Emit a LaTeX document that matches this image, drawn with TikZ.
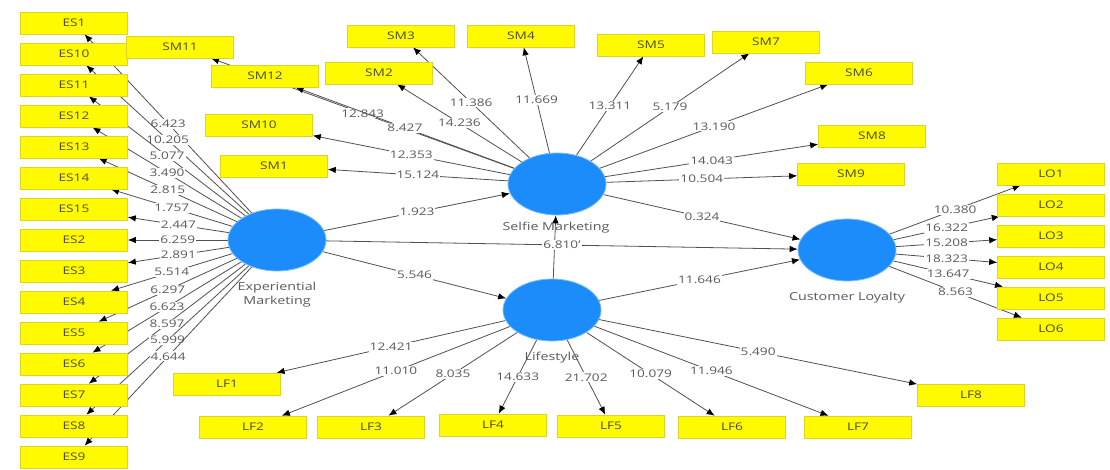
\documentclass[tikz,border=0pt]{standalone}
\usepackage{fontspec}
\setmainfont{Open Sans}[FakeStretch=1.3]
\usetikzlibrary{shapes.geometric,arrows.meta}
\definecolor{boxfill}{RGB}{255,250,0}
\definecolor{boxedge}{RGB}{222,212,40}
\definecolor{boxtext}{RGB}{75,75,55}
\definecolor{lvblue}{RGB}{28,140,250}
\definecolor{lvedge}{RGB}{120,190,255}
\definecolor{linegray}{RGB}{80,80,80}
\definecolor{numgray}{RGB}{90,90,90}
\pgfdeclarelayer{back}
\pgfdeclarelayer{bg}
\pgfsetlayers{back,bg,main}
\newcommand\pth[3]{\draw[con] (#1) -- node[val,midway]{#3} (#2);}
\newcommand\pthn[2]{\draw[con] (#1) -- (#2);}
\begin{document}
\begin{tikzpicture}[x=1pt,y=-1pt,
  ind/.style={draw=boxedge,line width=0.6pt,fill=boxfill,minimum width=107pt,minimum height=22pt,inner sep=0pt,text=boxtext,font=\fontsize{10.5}{12}\selectfont},
  lv/.style={ellipse,draw=lvedge,line width=0.8pt,fill=lvblue,minimum width=98pt,minimum height=62pt,inner sep=0pt},
  lvlab/.style={text=numgray,align=center,font=\fontsize{11}{14}\selectfont},
  con/.style={draw=linegray,line width=0.8pt,-{Latex[length=8pt,width=6.5pt,color=black]}},
  val/.style={fill=white,inner sep=1pt,text=numgray,font=\fontsize{10.5}{12}\selectfont}]
\begin{pgfonlayer}{back}
\fill[white] (0,0) rectangle (1110,470);
\end{pgfonlayer}
\useasboundingbox (0,0) rectangle (1110,470);

% latent variables
\node[lv] (EM) at (277,240) {};
\node[lv] (SM) at (557,184) {};
\node[lv] (LF) at (552,310) {};
\node[lv] (CL) at (847,250) {};

% ES indicators
\node[ind] (ES1)  at (74,23)  {ES1};
\node[ind] (ES10) at (74,54)  {ES10};
\node[ind] (ES11) at (74,85)  {ES11};
\node[ind] (ES12) at (74,116) {ES12};
\node[ind] (ES13) at (74,147) {ES13};
\node[ind] (ES14) at (74,178) {ES14};
\node[ind] (ES15) at (74,209) {ES15};
\node[ind] (ES2)  at (74,240) {ES2};
\node[ind] (ES3)  at (74,271) {ES3};
\node[ind] (ES4)  at (74,302) {ES4};
\node[ind] (ES5)  at (74,333) {ES5};
\node[ind] (ES6)  at (74,364) {ES6};
\node[ind] (ES7)  at (74,395) {ES7};
\node[ind] (ES8)  at (74,426) {ES8};
\node[ind] (ES9)  at (74,457) {ES9};

% SM indicators
\node[ind] (SM11) at (180,47)  {SM11};
\node[ind] (SM12) at (265,76)  {SM12};
\node[ind] (SM3)  at (401,36)  {SM3};
\node[ind] (SM4)  at (521,36)  {SM4};
\node[ind] (SM2)  at (379,73)  {SM2};
\node[ind] (SM10) at (259,125) {SM10};
\node[ind] (SM1)  at (274,166) {SM1};
\node[ind] (SM5)  at (651,45)  {SM5};
\node[ind] (SM7)  at (766,42)  {SM7};
\node[ind] (SM6)  at (859,73)  {SM6};
\node[ind] (SM8)  at (872,136) {SM8};
\node[ind] (SM9)  at (851,174) {SM9};

% LO indicators
\node[ind] (LO1) at (1051,174) {LO1};
\node[ind] (LO2) at (1051,205) {LO2};
\node[ind] (LO3) at (1051,236) {LO3};
\node[ind] (LO4) at (1051,267) {LO4};
\node[ind] (LO5) at (1051,298) {LO5};
\node[ind] (LO6) at (1051,329) {LO6};

% LF indicators
\node[ind] (LF1) at (227,384) {LF1};
\node[ind] (LF2) at (253,427) {LF2};
\node[ind] (LF3) at (371,427) {LF3};
\node[ind] (LF4) at (493,425) {LF4};
\node[ind] (LF5) at (611,426) {LF5};
\node[ind] (LF6) at (732,427) {LF6};
\node[ind] (LF7) at (858,427) {LF7};
\node[ind] (LF8) at (971,395) {LF8};

\begin{pgfonlayer}{bg}
% EM loadings
\pth{EM}{ES1}{6.423}
\pth{EM}{ES10}{10.205}
\pth{EM}{ES11}{5.077}
\pth{EM}{ES12}{3.490}
\pth{EM}{ES13}{2.815}
\pth{EM}{ES14}{1.757}
\pth{EM}{ES15}{2.447}
\pth{EM}{ES2}{6.259}
\pth{EM}{ES3}{2.891}
\pth{EM}{ES4}{5.514}
\pth{EM}{ES5}{6.297}
\pth{EM}{ES6}{6.623}
\pth{EM}{ES7}{8.597}
\pth{EM}{ES8}{5.999}
\pth{EM}{ES9}{4.644}
% SM loadings
\pth{SM}{SM11}{12.843}
\pth{SM}{SM12}{8.427}
\pth{SM}{SM3}{11.386}
\pth{SM}{SM2}{14.236}
\pth{SM}{SM4}{11.669}
\pth{SM}{SM10}{12.353}
\pth{SM}{SM1}{15.124}
\pth{SM}{SM5}{13.311}
\pth{SM}{SM7}{5.179}
\pth{SM}{SM6}{13.190}
\pth{SM}{SM8}{14.043}
\pth{SM}{SM9}{10.504}
% LO loadings
\pth{CL}{LO1}{10.380}
\pth{CL}{LO2}{16.322}
\pth{CL}{LO3}{15.208}
\pth{CL}{LO4}{18.323}
\pth{CL}{LO5}{13.647}
\pth{CL}{LO6}{8.563}
% LF loadings
\pth{LF}{LF1}{12.421}
\pth{LF}{LF2}{11.010}
\pth{LF}{LF3}{8.035}
\pth{LF}{LF4}{14.633}
\pth{LF}{LF5}{21.702}
\pth{LF}{LF6}{10.079}
\pth{LF}{LF7}{11.946}
\pth{LF}{LF8}{5.490}
% structural paths
\pthn{LF}{SM}
\pth{EM}{SM}{1.923}
\pth{EM}{CL}{6.810'}
\pth{EM}{LF}{5.546}
\pth{SM}{CL}{0.324}
\pth{LF}{CL}{11.646}
\end{pgfonlayer}

% latent variable labels
\node[lvlab] (EMl) at (277,295) {Experiential\\Marketing};
\node[lvlab] (SMl) at (556,228) {Selfie Marketing};
\node[lvlab] (LFl) at (552,358) {Lifestyle};
\node[lvlab] (CLl) at (847,298) {Customer Loyalty};
\end{tikzpicture}
\end{document}
